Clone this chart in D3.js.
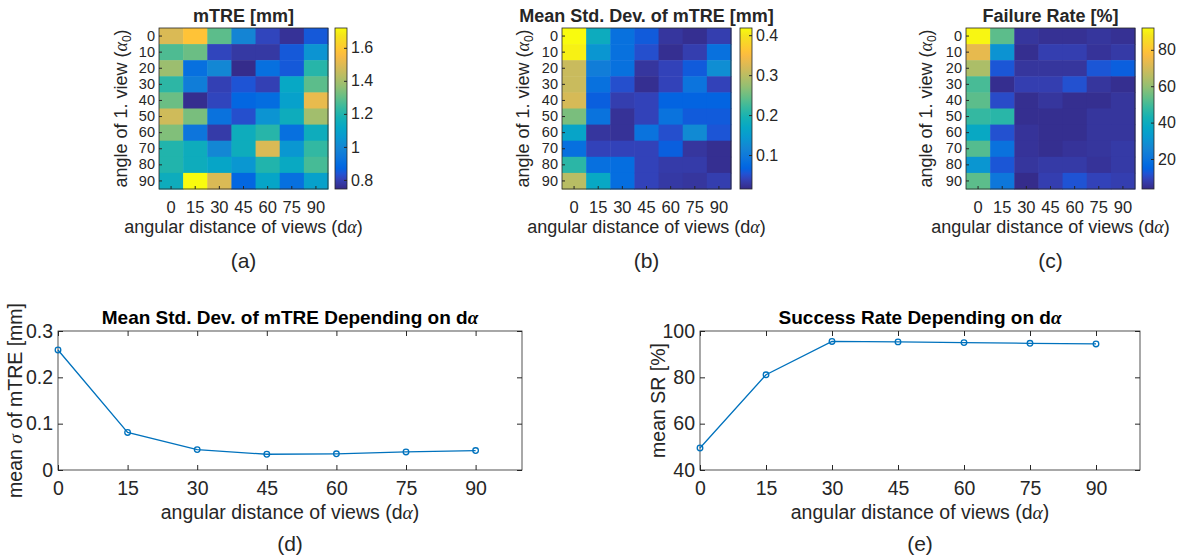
<!DOCTYPE html>
<html>
<head>
<meta charset="utf-8">
<script src="https://cdn.jsdelivr.net/npm/d3@7"></script>
<style>
  body { margin: 0; background: #fff; }
  text { font-family: "Liberation Sans", Arial, sans-serif; fill: #262626; }
</style>
</head>
<body>
<svg id="fig" width="1189" height="560"></svg>
<script>
// ---- data ----
var dAlpha = [0, 15, 30, 45, 60, 75, 90];
var alpha0 = [0, 10, 20, 30, 40, 50, 60, 70, 80, 90];

// rows = alpha0, columns = dAlpha
var mtre = [
  [1.49, 1.58, 1.29, 0.99, 0.81, 0.765, 0.85],
  [1.27, 1.31, 0.81, 0.78, 0.78, 0.85, 1.04],
  [1.38, 0.91, 1.00, 0.75, 0.91, 0.85, 1.21],
  [1.22, 0.96, 0.80, 0.84, 0.80, 1.12, 1.29],
  [1.31, 0.755, 0.81, 0.88, 0.90, 1.09, 1.52],
  [1.47, 1.33, 0.92, 0.83, 1.04, 1.15, 1.39],
  [1.34, 0.93, 0.785, 1.15, 1.21, 0.91, 1.15],
  [1.20, 1.15, 1.00, 1.15, 1.49, 1.05, 1.23],
  [1.20, 1.15, 1.11, 1.05, 1.20, 1.13, 1.26],
  [1.15, 1.72, 1.49, 0.88, 1.11, 0.91, 1.09]
];
var stdMtre = [
  [0.418, 0.18, 0.085, 0.06, 0.027, 0.02, 0.035],
  [0.41, 0.14, 0.085, 0.05, 0.02, 0.035, 0.085],
  [0.31, 0.105, 0.085, 0.027, 0.04, 0.06, 0.13],
  [0.31, 0.085, 0.05, 0.02, 0.04, 0.09, 0.04],
  [0.32, 0.063, 0.035, 0.04, 0.068, 0.068, 0.068],
  [0.257, 0.088, 0.023, 0.04, 0.088, 0.06, 0.06],
  [0.164, 0.027, 0.023, 0.088, 0.05, 0.124, 0.055],
  [0.083, 0.04, 0.04, 0.04, 0.063, 0.027, 0.02],
  [0.21, 0.083, 0.08, 0.04, 0.032, 0.032, 0.02],
  [0.297, 0.172, 0.08, 0.04, 0.03, 0.027, 0.035]
];
var failRate = [
  [91, 53, 6, 5, 5, 6, 5],
  [73.4, 30, 4.5, 8, 8, 5.5, 7],
  [63.7, 12.4, 6, 6, 6, 12.4, 14],
  [50.4, 4.4, 8, 8, 11.5, 6, 4.5],
  [53, 10.6, 4.5, 6, 4.5, 4.5, 6],
  [47.8, 46, 4.5, 4.5, 4.5, 6, 6],
  [38, 11.5, 5.5, 4.5, 4.5, 6, 6],
  [52, 19.4, 5.5, 4.5, 5.5, 6, 7],
  [31, 12.4, 6, 7, 7, 5.5, 7],
  [53, 21.2, 4, 8, 12, 9, 8]
];

var mtreRange = [0.745, 1.72];
var stdRange = [0.015, 0.418];
var failRange = [3.5, 92];
var mtreTicks = [0.8, 1, 1.2, 1.4, 1.6];
var stdTicks = [0.1, 0.2, 0.3, 0.4];
var failTicks = [20, 40, 60, 80];

var meanStd = [0.259, 0.081, 0.044, 0.034, 0.035, 0.039, 0.042];
var meanSR = [49.5, 81.1, 95.5, 95.3, 95.0, 94.7, 94.4];
var stdYTicks = [0, 0.1, 0.2, 0.3];
var srYTicks = [40, 60, 80, 100];

// parula colormap (index of 64, r, g, b)
var parulaStops = [
  [0, .2081, .1663, .5292], [2, .2123, .2138, .6270], [4, .1959, .2645, .7279],
  [6, .1253, .3242, .8303], [8, .0117, .3875, .8820], [10, .0165, .4266, .8786],
  [12, .0498, .4586, .8641], [16, .0793, .5200, .8312], [20, .0343, .5966, .8199],
  [24, .0228, .6535, .7768], [28, .0843, .6928, .7062], [32, .2178, .7250, .6193],
  [36, .3953, .7459, .5244], [40, .5709, .7485, .4494], [44, .7184, .7411, .3905],
  [48, .8507, .7299, .3360], [52, .9739, .7314, .2666], [54, .9990, .7653, .2164],
  [56, .9880, .8066, .1794], [60, .9589, .8949, .1132], [63, .9763, .9831, .0538]
];
var parula = d3.scaleLinear()
  .domain(parulaStops.map(s => s[0] / 63))
  .range(parulaStops.map(s => d3.rgb(s[1] * 255, s[2] * 255, s[3] * 255).toString()))
  .interpolate(d3.interpolateRgb)
  .clamp(true);

var svg = d3.select("#fig");
var axisColor = "#262626";
var fontSans = "Liberation Sans, Arial, sans-serif";
var fontSerif = "Liberation Serif, serif";

var defs = svg.append("defs");
var grad = defs.append("linearGradient")
  .attr("id", "parulaGrad")
  .attr("x1", 0).attr("y1", 1).attr("x2", 0).attr("y2", 0);
parulaStops.forEach(function(s) {
  grad.append("stop")
    .attr("offset", s[0] / 63)
    .attr("stop-color", parula(s[0] / 63));
});

function styleAxis(g, size) {
  g.attr("font-size", size).attr("font-family", fontSans);
  g.select(".domain").remove();
  g.selectAll("line").attr("stroke", axisColor);
  g.selectAll("text").attr("fill", axisColor);
}

// ---- heatmaps ----
var hmTop = 28, hmH = 161, hmW = 169, cbW = 12, hmFont = 18;
var panels = [
  { values: mtre, range: mtreRange, ticks: mtreTicks, title: "mTRE [mm]", caption: "(a)", left: 159, cbLeft: 335, ylabX: 121 },
  { values: stdMtre, range: stdRange, ticks: stdTicks, title: "Mean Std. Dev. of mTRE [mm]", caption: "(b)", left: 562, cbLeft: 740, ylabX: 523 },
  { values: failRate, range: failRange, ticks: failTicks, title: "Failure Rate [%]", caption: "(c)", left: 966, cbLeft: 1142, ylabX: 926 }
];

panels.forEach(function(p) {
  var x = d3.scaleBand().domain(dAlpha).range([p.left, p.left + hmW]);
  var y = d3.scaleBand().domain(alpha0).range([hmTop, hmTop + hmH]);
  var c = d3.scaleLinear().domain(p.range).range([0, 1]);

  var cells = [];
  p.values.forEach(function(row, i) {
    row.forEach(function(v, j) {
      cells.push({ a0: alpha0[i], da: dAlpha[j], v: v });
    });
  });

  svg.append("g").selectAll("rect")
    .data(cells)
    .enter()
    .append("rect")
    .attr("x", d => x(d.da))
    .attr("y", d => y(d.a0))
    .attr("width", x.bandwidth() + 0.5)
    .attr("height", y.bandwidth() + 0.5)
    .attr("fill", d => parula(c(d.v)));

  svg.append("g")
    .attr("transform", `translate(0, ${hmTop + hmH})`)
    .call(d3.axisBottom(x).tickSizeInner(-3).tickSizeOuter(0).tickPadding(12.5))
    .call(g => styleAxis(g, 16.5));

  svg.append("g")
    .attr("transform", `translate(${p.left}, 0)`)
    .call(d3.axisLeft(y).tickSizeInner(-3).tickSizeOuter(0).tickPadding(4))
    .call(g => styleAxis(g, 14.5));

  svg.append("rect")
    .attr("x", p.left).attr("y", hmTop)
    .attr("width", hmW).attr("height", hmH)
    .attr("fill", "none").attr("stroke", axisColor).attr("stroke-width", 0.8);

  // colorbar
  var cb = d3.scaleLinear().domain(p.range).range([hmTop + hmH, hmTop]);
  svg.append("rect")
    .attr("x", p.cbLeft).attr("y", hmTop)
    .attr("width", cbW).attr("height", hmH)
    .attr("fill", "url(#parulaGrad)")
    .attr("stroke", axisColor).attr("stroke-width", 0.8);
  svg.append("g")
    .attr("transform", `translate(${p.cbLeft + cbW}, 0)`)
    .call(d3.axisRight(cb).tickValues(p.ticks).tickFormat(d => String(d)).tickSizeInner(-3).tickSizeOuter(0).tickPadding(4))
    .call(g => styleAxis(g, 16));

  var cx = p.left + hmW / 2;
  svg.append("text")
    .attr("x", cx).attr("y", 21.5)
    .attr("text-anchor", "middle")
    .attr("font-size", 18).attr("font-weight", "bold")
    .attr("fill", "#000")
    .text(p.title);

  var xl = svg.append("text")
    .attr("x", cx).attr("y", 233)
    .attr("text-anchor", "middle")
    .attr("font-size", hmFont);
  xl.append("tspan").text("angular distance of views (d");
  xl.append("tspan").attr("font-family", fontSerif).attr("font-style", "italic").text("α");
  xl.append("tspan").text(")");

  var yl = svg.append("text")
    .attr("transform", `translate(${p.ylabX}, ${hmTop + hmH / 2}) rotate(-90)`)
    .attr("text-anchor", "middle")
    .attr("dy", "0.35em")
    .attr("font-size", hmFont);
  yl.append("tspan").text("angle of 1. view (");
  yl.append("tspan").attr("font-family", fontSerif).attr("font-style", "italic").text("α");
  yl.append("tspan").attr("font-size", 12).attr("dy", 4).text("0");
  yl.append("tspan").attr("dy", -4).text(")");

  svg.append("text")
    .attr("x", cx).attr("y", 268)
    .attr("text-anchor", "middle")
    .attr("font-family", fontSerif)
    .attr("font-size", 21).attr("fill", "#000")
    .text(p.caption);
});

// ---- line charts ----
var lineTop = 331, lineBottom = 470, lineFont = 19.5;
var linePanels = [
  { values: meanStd, yDomain: [0, 0.3], yTicks: stdYTicks, left: 58, right: 522, ylabX: 15,
    title: "Mean Std. Dev. of mTRE Depending on d", caption: "(d)", ylab: "std" },
  { values: meanSR, yDomain: [40, 100], yTicks: srYTicks, left: 700, right: 1140, ylabX: 658,
    title: "Success Rate Depending on d", caption: "(e)", ylab: "sr" }
];

linePanels.forEach(function(p) {
  var x = d3.scaleLinear().domain([0, 100]).range([p.left, p.right]);
  var y = d3.scaleLinear().domain(p.yDomain).range([lineBottom, lineTop]);
  var w = p.right - p.left, h = lineBottom - lineTop;

  svg.append("g")
    .attr("transform", `translate(0, ${lineBottom})`)
    .call(d3.axisBottom(x).tickValues(dAlpha).tickSizeInner(-5).tickSizeOuter(0).tickPadding(11))
    .call(g => styleAxis(g, lineFont));
  svg.append("g")
    .attr("transform", `translate(0, ${lineTop})`)
    .call(d3.axisTop(x).tickValues(dAlpha).tickFormat("").tickSizeInner(-5).tickSizeOuter(0))
    .call(g => styleAxis(g, lineFont));
  svg.append("g")
    .attr("transform", `translate(${p.left}, 0)`)
    .call(d3.axisLeft(y).tickValues(p.yTicks).tickFormat(d => String(d)).tickSizeInner(-5).tickSizeOuter(0).tickPadding(5))
    .call(g => styleAxis(g, lineFont));
  svg.append("g")
    .attr("transform", `translate(${p.right}, 0)`)
    .call(d3.axisRight(y).tickValues(p.yTicks).tickFormat("").tickSizeInner(-5).tickSizeOuter(0))
    .call(g => styleAxis(g, lineFont));

  svg.append("rect")
    .attr("x", p.left).attr("y", lineTop)
    .attr("width", w).attr("height", h)
    .attr("fill", "none").attr("stroke", axisColor).attr("stroke-width", 0.8);

  var pts = p.values.map((v, i) => ({ x: dAlpha[i], y: v }));
  svg.append("path")
    .datum(pts)
    .attr("d", d3.line().x(d => x(d.x)).y(d => y(d.y)))
    .attr("fill", "none")
    .attr("stroke", "#0072BD")
    .attr("stroke-width", 1.3);
  svg.append("g").selectAll("circle")
    .data(pts)
    .enter()
    .append("circle")
    .attr("cx", d => x(d.x))
    .attr("cy", d => y(d.y))
    .attr("r", 2.8)
    .attr("fill", "none")
    .attr("stroke", "#0072BD")
    .attr("stroke-width", 1.3);

  var cx = (p.left + p.right) / 2;
  var t = svg.append("text")
    .attr("x", cx).attr("y", 324)
    .attr("text-anchor", "middle")
    .attr("font-size", 19).attr("font-weight", "bold")
    .attr("fill", "#000");
  t.append("tspan").attr("fill", "#000").text(p.title);
  t.append("tspan").attr("fill", "#000").attr("font-family", fontSerif).attr("font-style", "italic").text("α");

  var xl = svg.append("text")
    .attr("x", cx).attr("y", 519)
    .attr("text-anchor", "middle")
    .attr("font-size", lineFont);
  xl.append("tspan").text("angular distance of views (d");
  xl.append("tspan").attr("font-family", fontSerif).attr("font-style", "italic").text("α");
  xl.append("tspan").text(")");

  var yl = svg.append("text")
    .attr("transform", `translate(${p.ylabX}, ${(lineTop + lineBottom) / 2}) rotate(-90)`)
    .attr("text-anchor", "middle")
    .attr("dy", "0.35em")
    .attr("font-size", lineFont);
  if (p.ylab === "std") {
    yl.append("tspan").text("mean ");
    yl.append("tspan").attr("font-family", fontSerif).attr("font-style", "italic").text("σ");
    yl.append("tspan").text(" of mTRE [mm]");
  } else {
    yl.text("mean SR [%]");
  }

  svg.append("text")
    .attr("x", cx).attr("y", 551)
    .attr("text-anchor", "middle")
    .attr("font-family", fontSerif)
    .attr("font-size", 21).attr("fill", "#000")
    .text(p.caption);
});
</script>
</body>
</html>
